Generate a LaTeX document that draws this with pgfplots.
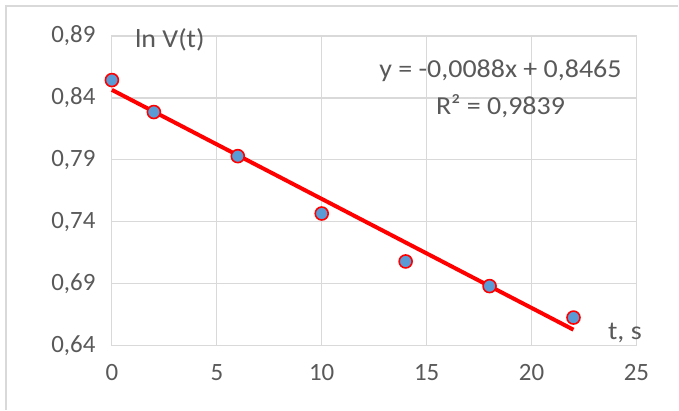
\documentclass[border=0pt]{standalone}
\usepackage{pgfplots}
\pgfplotsset{compat=1.18}
\usepackage{fontspec}
\setmainfont{Carlito}
\newfontfamily\notefont[FakeStretch=1.08]{Carlito}
\definecolor{gridgray}{HTML}{D9D9D9}
\definecolor{txtgray}{HTML}{595959}
\definecolor{ptblue}{HTML}{5B9BD5}
\tikzset{note/.style={txtgray, font=\notefont\fontsize{26}{30}\selectfont}}
\begin{document}
\begin{tikzpicture}
\begin{axis}[
  at={(0,0)}, anchor=origin,
  scale only axis,
  width=525bp, height=310bp,
  xmin=0, xmax=25, ymin=0.64, ymax=0.89,
  xtick={0,5,...,25},
  ytick={0.64,0.69,0.74,0.79,0.84,0.89},
  grid=major,
  grid style={gridgray, line width=1.2pt},
  axis line style={gridgray, line width=1.2pt},
  major tick length=0pt,
  tick label style={txtgray, font=\fontsize{25}{29}\selectfont},
  yticklabel style={/pgf/number format/fixed, /pgf/number format/precision=2,
    /pgf/number format/fixed zerofill, /pgf/number format/use comma},
  /pgf/number format/assume math mode=true,
  xticklabel style={yshift=-15bp},
  yticklabel style={xshift=-13bp},
  clip=false,
]
% measured values of ln V against time
\addplot[only marks, mark=*, mark size=6.5bp,
  mark options={fill=ptblue, draw=red, line width=1.6pt}]
  coordinates {(0,0.8544) (2,0.8286) (6,0.7930) (10,0.7467) (14,0.7080) (18,0.6881) (22,0.6627)};
% linear trendline
\addplot[red, line width=4pt, no marks] coordinates {(0,0.8465) (22,0.6529)};
\node[note] at (axis cs:18.52,0.8618) {y = -0,0088x + 0,8465};
\node[note] at (axis cs:18.52,0.8335) {R² = 0,9839};
\node[note] at (axis cs:2.76,0.8865) {ln V(t)};
\node[note] at (axis cs:24.45,0.6500) {t, s};
\end{axis}
% outer chart frame
\draw[gridgray, line width=1.2pt] (-106bp,-64bp) -- (-106bp,340bp) -- (567bp,340bp);
\path[use as bounding box] (-112bp,-64bp) rectangle (567bp,346bp);
\end{tikzpicture}
\end{document}
